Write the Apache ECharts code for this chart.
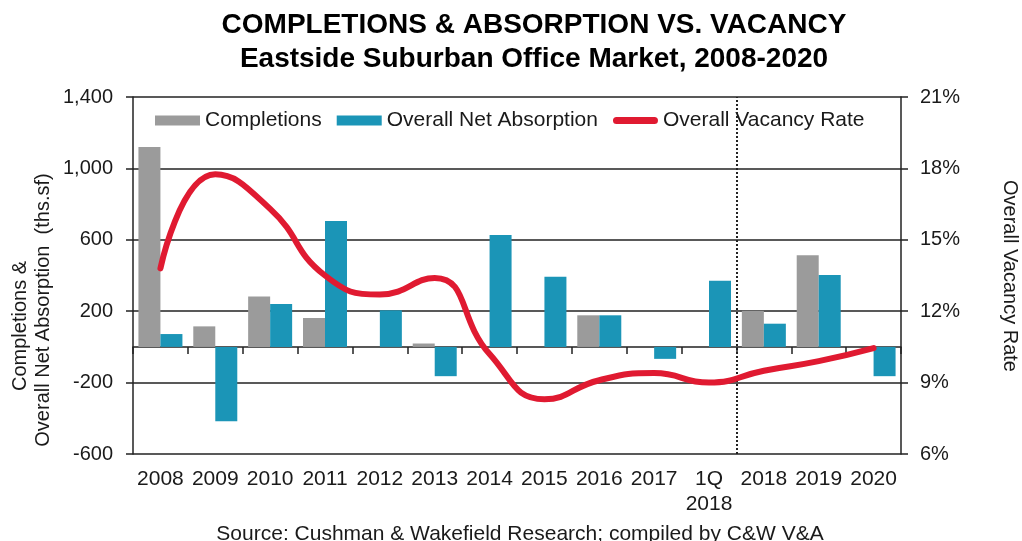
<!DOCTYPE html>
<html>
<head>
<meta charset="utf-8">
<script src="https://cdn.jsdelivr.net/npm/echarts@6/dist/echarts.min.js"></script>
<style>
  html, body { margin: 0; padding: 0; background: #fff; }
  #chart { width: 1022px; height: 541px; }
</style>
</head>
<body>
<div id="chart"></div>
<script>
// Years shown on the category axis
const categories = ['2008', '2009', '2010', '2011', '2012', '2013', '2014', '2015', '2016', '2017', '1Q\n2018', '2018', '2019', '2020'];
// Completions, thousands of sq ft
const completions = [1120, 115, 283, 162, 0, 19, 0, 0, 177, 0, 0, 202, 514, 0];
// Overall net absorption, thousands of sq ft
const netAbsorption = [72, -417, 241, 705, 205, -164, 627, 393, 177, -67, 371, 130, 403, -164];
// Overall vacancy rate, percent
const vacancyRate = [13.8, 17.75, 16.3, 13.5, 12.7, 13.4, 10.2, 8.3, 9.1, 9.4, 9.0, 9.5, 9.9, 10.45];
// Tick values for the two value axes
const leftTicks = [-600, -200, 200, 600, 1000, 1400];
const rightTicks = [6, 9, 12, 15, 18, 21];
// Category boundary where the dotted divider sits (between 1Q 2018 and 2018)
const dividerAt = 11;

const FONT = '"Liberation Sans", Arial, sans-serif';
const INK = '#1a1a1a';
const RED = '#e01a31';
const leftStep = leftTicks[1] - leftTicks[0];
const leftSpan = leftTicks[leftTicks.length - 1] - leftTicks[0];

const chart = echarts.init(document.getElementById('chart'), null, { renderer: 'canvas' });

chart.setOption({
  animation: false,
  backgroundColor: '#fff',
  textStyle: { fontFamily: FONT, color: INK },
  title: {
    text: 'COMPLETIONS & ABSORPTION VS. VACANCY\nEastside Suburban Office Market, 2008-2020',
    left: 529,
    textAlign: 'center',
    top: 3,
    textStyle: { fontFamily: FONT, fontSize: 28, fontWeight: 'bold', lineHeight: 34, color: '#000' }
  },
  grid: { left: 133, right: 121, top: 97, bottom: 87 },
  legend: {
    left: 150,
    top: 105,
    itemWidth: 45,
    itemHeight: 10,
    itemGap: 15,
    textStyle: { fontFamily: FONT, fontSize: 21, color: INK },
    data: [
      { name: 'Completions', icon: 'rect' },
      { name: 'Overall Net Absorption', icon: 'rect' },
      { name: 'Overall Vacancy Rate', icon: 'path://M4,0 L46,0 A4,4 0 0 1 46,8 L4,8 A4,4 0 0 1 4,0 Z' }
    ]
  },
  xAxis: [
    {
      // zero baseline with boundary ticks
      type: 'category',
      data: categories,
      position: 'bottom',
      axisLine: { show: true, onZero: true, onZeroAxisIndex: 0, lineStyle: { color: '#222', width: 1.5 } },
      axisTick: { show: true, length: 7, inside: false, lineStyle: { color: '#222', width: 1.5 } },
      axisLabel: { show: false },
      splitLine: { show: false }
    },
    {
      // year labels along the bottom edge
      type: 'category',
      data: categories,
      position: 'bottom',
      axisLine: { show: false, onZero: false },
      axisTick: { show: false },
      axisLabel: { interval: 0, fontFamily: FONT, fontSize: 21, color: INK, margin: 13, lineHeight: 25 },
      splitLine: { show: false }
    },
    {
      // continuous helper axis for the divider line
      type: 'value',
      min: 0,
      max: categories.length,
      show: false
    }
  ],
  yAxis: [
    {
      // data axis for the bars
      type: 'value',
      min: leftTicks[0],
      max: leftTicks[leftTicks.length - 1],
      position: 'left',
      axisLine: { show: true, onZero: false, lineStyle: { color: '#222', width: 1.5 } },
      axisTick: { show: false },
      axisLabel: { show: false },
      splitLine: { show: false }
    },
    {
      type: 'value',
      min: rightTicks[0],
      max: rightTicks[rightTicks.length - 1],
      interval: rightTicks[1] - rightTicks[0],
      position: 'right',
      axisLine: { show: true, onZero: false, lineStyle: { color: '#222', width: 1.5 } },
      axisTick: { show: true, length: 7, inside: false, lineStyle: { color: '#222', width: 1.5 } },
      axisLabel: { fontFamily: FONT, fontSize: 20, color: INK, margin: 19, formatter: v => v + '%' },
      splitLine: { show: false }
    },
    {
      // gridlines and tick labels for the left scale
      type: 'value',
      min: 0,
      max: leftSpan,
      interval: leftStep,
      position: 'left',
      axisLine: { show: false, onZero: false },
      axisTick: { show: true, length: 7, inside: false, lineStyle: { color: '#222', width: 1.5 } },
      axisLabel: {
        fontFamily: FONT, fontSize: 20, color: INK, margin: 20,
        formatter: v => (v + leftTicks[0]).toLocaleString('en-US')
      },
      splitLine: { show: true, lineStyle: { color: '#222', width: 1.5 } }
    }
  ],
  series: [
    {
      name: 'Completions',
      type: 'bar',
      xAxisIndex: 0,
      yAxisIndex: 0,
      data: completions,
      barWidth: 22,
      barGap: '0%',
      itemStyle: { color: '#9b9b9b' },
      z: 2
    },
    {
      name: 'Overall Net Absorption',
      type: 'bar',
      xAxisIndex: 0,
      yAxisIndex: 0,
      data: netAbsorption,
      barWidth: 22,
      barGap: '0%',
      itemStyle: { color: '#1b95b7' },
      z: 2
    },
    {
      name: 'Overall Vacancy Rate',
      type: 'line',
      xAxisIndex: 0,
      yAxisIndex: 1,
      data: vacancyRate,
      smooth: 0.5,
      symbol: 'none',
      lineStyle: { color: RED, width: 6, cap: 'round' },
      itemStyle: { color: RED },
      z: 5
    },
    {
      type: 'line',
      xAxisIndex: 2,
      yAxisIndex: 0,
      data: [[dividerAt, 0]],
      symbol: 'none',
      silent: true,
      lineStyle: { width: 0 },
      markLine: {
        silent: true,
        symbol: ['none', 'none'],
        label: { show: false },
        emphasis: { disabled: true },
        lineStyle: { color: '#222', type: [2, 2], width: 2 },
        data: [{ xAxis: dividerAt }]
      },
      z: 4
    }
  ],
  graphic: [
    {
      type: 'text', x: 20, y: 326, rotation: Math.PI / 2,
      style: { text: 'Completions &', font: '20px ' + FONT, fill: INK, align: 'center', verticalAlign: 'middle' }
    },
    {
      type: 'text', x: 43, y: 310, rotation: Math.PI / 2,
      style: { text: 'Overall Net Absorption  (ths.sf)', font: '20px ' + FONT, fill: INK, align: 'center', verticalAlign: 'middle' }
    },
    {
      type: 'text', x: 1010, y: 276, rotation: -Math.PI / 2,
      style: { text: 'Overall Vacancy Rate', font: '20px ' + FONT, fill: INK, align: 'center', verticalAlign: 'middle' }
    },
    {
      type: 'text', x: 520, y: 534,
      style: { text: 'Source: Cushman & Wakefield Research; compiled by C&W V&A', font: '21px ' + FONT, fill: INK, align: 'center', verticalAlign: 'middle' }
    }
  ]
});
</script>
</body>
</html>
